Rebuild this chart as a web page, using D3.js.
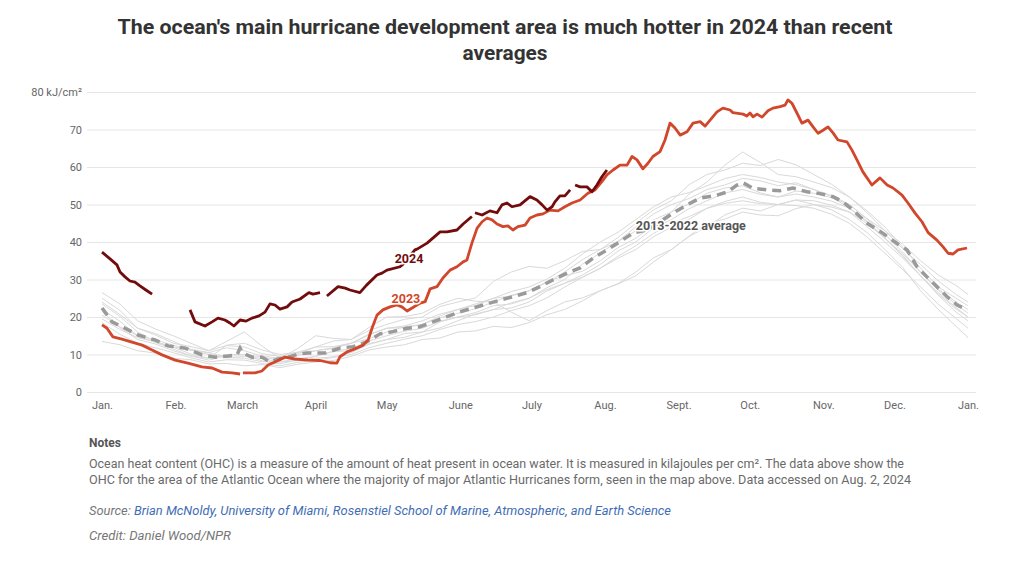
<!DOCTYPE html>
<html>
<head>
<meta charset="utf-8">
<script src="https://cdn.jsdelivr.net/npm/d3@7"></script>
<style>
  body { margin: 0; background: #fff; }
  svg { display: block; }
</style>
</head>
<body>
<svg id="chart" width="1009" height="564"></svg>
<script>
// ---------- DATA ----------
const monthTicks = [0, 31, 59, 90, 120, 151, 181, 212, 243, 273, 304, 334, 365];
const monthLabels = ["Jan.", "Feb.", "March", "April", "May", "June", "July", "Aug.", "Sept.", "Oct.", "Nov.", "Dec.", "Jan."];
const yTicks = [0, 10, 20, 30, 40, 50, 60, 70, 80];

// 2024 (null = missing data)
const days2024 = [0,3.4,6.3,7.6,9.7,11.8,13.9,16,18.5,21.1, 29,
  37.1,39.2,43.4,46.4,48.9,51.8,53.9,55.6,58.2,60.7,63.2,66.2,68.7,70.8,72.9,75,78,80.1,83.5,87.2,88.9,91.9, 93,
  94.8,99.5,102.5,104.5,108.7,111.5,115.9,118,120.1,125.6,126.9,131.9,132.8,137,142.5,145.4,149.6,152.2,155.9, 156.5,
  157.2,160.2,163.5,166.5,168.6,170.7,172.8,176.2,180.4,183.3,185.5,187.6,189.7,190.9,193,195.1,197.3, 198.3,
  199.4,201.5,204.4,206.5,208.6,210.7,212.8];
const vals2024 = [37.3,35.5,33.9,32,30.7,29.6,29.3,28.3,27.2,26.1, null,
  21.9,18.7,17.6,18.7,19.7,19.2,18.4,17.6,19.2,18.9,19.7,20.3,21.3,23.5,23.2,22.1,22.7,24,24.8,26.5,26.1,26.5, null,
  25.6,28.1,27.7,27.2,26.5,28.5,31.2,31.7,32.5,33.4,34.1,37.9,38.1,39.7,42.7,42.7,43.2,44.8,46.8, null,
  47.8,47.2,48.3,47.8,49.9,50.4,49.4,49.9,52.1,51.2,49.9,48.5,49.4,50.7,52.3,52.3,53.9, null,
  55.2,54.7,54.7,53.4,55.2,57.4,59.2];

// 2023
const days2023 = [0,2.1,4.6,8.4,12.6,16.9,21.1,25.3,30.8,36.2,42.1,46.4,50.6,54.8,58.2, 58.8,
  59.4,64.5,67.4,70,72.9,77.1,81.3,86.8,91.9,96.1,99,100.3,103.3,106.6,110.1,112.2,113.8,115.9,118.4,121.4,
  124.3,126.4,128.6,130.7,134.1,136.2,138.3,141.2,143.7,146.7,149.6,152.2,153.8,155.9,158.1,160.2,162.3,164.4,
  166.5,169,171.1,173.2,175.3,178.3,180.4,183.3,185.9,188.8,192.2,195.1,198.1,201.5,204.8,207.8,210.7,212.8,
  215.4,218.3,221.3,223.4,225.5,228,230.1,232.2,235.2,237.3,239.4,241.5,243.7,246.6,249.1,252.1,254.2,256.3,
  259.2,261.7,264.7,265.9,270.2,271.8,273.1,274.4,276.1,278.2,280.7,282.8,285.8,287.9,289.1,290.8,292.9,295,
  297.6,299.7,301.8,303.9,306,308.1,310.2,314,316.1,318.2,320.7,324.5,327.9,330.9,333.4,337.2,339.7,342.7,
  345.6,348.2,351.9,354.5,356.6,358.7,360.8,364.6];
const vals2023 = [17.9,17,14.7,14.1,13.3,12.5,11.2,9.9,8.5,7.7,6.7,6.4,5.3,5.1,4.8, null,
  5.1,5.1,5.6,7.2,8,9.3,8.8,8.5,8.4,7.8,7.7,9.4,10.7,11.5,12.5,13.9,17,20.5,21.9,22.7,
  23.2,22.7,21.6,22.4,23.7,24.1,27.5,28.1,30.4,32.5,33.4,34.7,35.2,39.7,43.7,45.4,46.4,45.9,
  44.8,44.1,44.3,43.2,44.1,44.5,46.4,47.2,47.5,48.5,48.3,49.4,50.4,51.2,53,53.9,56.1,57.9,
  59.2,60.5,60.5,62.8,61.9,59.5,61,62.8,64.1,67.2,71.7,70.4,68.5,69.4,71.7,72.1,70.9,72.5,
  74.7,75.7,75.2,74.5,74.1,73.6,74.4,73.4,74.1,73.3,75,75.7,76.1,76.5,77.9,77,74.4,71.7,
  72.5,70.7,69,69.8,70.7,69.1,67.2,66.7,64.5,61.9,58.7,55.2,57.1,55.2,54.4,52.5,50.4,47.7,
  45.4,42.5,40.5,38.7,37,36.8,37.9,38.4];

// 2013-2022 average
const daysAvg = [0,1.3,4.2,9.7,15.2,22.3,27.8,35,42.1,47.6,53.1,56.9,58.2,59.4,63.2,67.4,70.8,74.2,78.4,82.6,
  86.8,94,100.3,105.8,111.7,117.2,122.6,128.6,134,139.5,145.4,150.9,156.4,162.3,167.7,173.2,179.1,184.6,190.1,
  196,201.5,207,212.8,218.3,223.8,229.7,235.2,240.7,246.6,252.1,259.2,263.8,267.6,270.2,274.4,280.3,285.8,
  291.2,297.1,302.6,308.1,312.3,316.5,322.5,329.2,335.1,339.3,343.5,347.7,351.9,356.2,360.4,364.6];
const valsAvg = [22.4,21.3,18.7,17,15.2,13.9,12.3,11.7,9.9,9.3,9.6,9.9,11.7,10.4,9.3,9.3,8,8.8,9.3,10.1,
  10.4,10.4,11.7,12.1,13.4,15.5,16.1,17,17.4,18.7,20.1,21.4,22.4,23.5,24.5,25.4,26.5,28.1,29.9,
  31.7,33.1,35.7,37.9,40.1,42.4,43.2,45.4,47.7,49.9,51.7,52.5,53.4,55.2,55.8,54.3,53.9,53.7,
  54.4,53.4,52.9,52.1,50.7,48.5,45,42.3,39.6,37.9,33.4,30.7,28.1,25.4,23.2,21.9];

// individual years 2013-2022 (light grey), sampled every 7.5 days
const daysYears = [0,7.5,15,22.5,30,37.5,45,52.5,60,67.5,75,82.5,90,97.5,105,112.5,120,127.5,135,142.5,
  150,157.5,165,172.5,180,187.5,195,202.5,210,217.5,225,232.5,240,247.5,255,262.5,270,277.5,285,292.5,
  300,307.5,315,322.5,330,337.5,345,352.5,360,365];
const yearA = [13.5,12.6,11,10.4,9,8.6,7.5,7.6,7,7.3,6.5,7.4,8,8.4,9.5,11.2,12,12.6,14,14.4,
  16,16.3,17.5,17.2,18.5,20.6,22,24.3,27,28.9,32,35.8,38,41.5,44,47.2,49,48.3,50,51.2,
  50,48.6,46,42.5,38,33.2,27,22,17.5,14.5];
const yearB = [26.5,23.5,19,16.8,15,13,11,12.4,12,10.2,9.5,10.6,11,11.8,13,15.2,17,17.6,19,20.8,
  22,23.5,25,25.6,27,29.4,31,32.2,35,38.5,41,44.6,48,52.8,56,60.5,64,61.2,58,57.4,
  56,54.5,52,48.3,44,38.6,33,28,25,23];
const yearC = [25,21.8,17,15.6,13.5,11.4,10.5,9.2,9,8.1,8,8.9,9.5,10.8,11,12.9,14,15.6,16,18.7,
  20,21.2,23,23.5,25,27.8,30,34.1,37,40.2,44,47.5,50,51.6,54,55.2,57,56.3,55,55.8,
  54,52.1,49,45.6,41,36.4,31,26.5,22.5,20];
const yearD = [23.5,20.2,16,13.4,12,10.1,9,12.5,13,11.2,10,10.6,12,13.6,14,16.4,18,19.4,20,22.8,
  24,25.1,29.5,32,33.5,33,35,37.5,38,41.2,45,48.6,51,55.3,58,59.2,61,60.4,62,60.6,
  58,55.4,52,47.8,43,38.2,34,29.6,26,24];
const yearE = [22,18.9,15,13.2,11.5,9.6,8.5,9.8,10,8.3,7.5,8.6,9,9.4,10.5,12.7,14,14.6,16,17.1,
  19,20.8,22,22.4,24,26.9,29,31.2,34,37.6,40,43.8,46,48.9,51,53.1,54,52.7,52,53.6,
  53,51.8,50,46.2,43,39.4,35,31.2,28.4,26];
const yearF = [21.5,17.2,14,12.8,11,9.6,9,9.9,10,9.3,8.5,9.8,11,11.6,13,14.2,16,17.4,18,20.3,
  22,23.1,25,26.8,28,30.1,33,36.8,40,42.6,46,49.4,52,53.2,55,56.9,58,57.2,56,55.3,
  54,52.4,50,46.1,42,37.3,32,27.4,24,22];
const yearG = [20.5,17.4,15,13.9,12.5,11.1,10.5,11.8,11,9.6,9,10.2,12,12.1,13,15.4,17,17.2,18,19.8,
  21,22.2,24,25.8,27,29.2,32,35.3,38,40.1,43,45.9,48,50.2,53,54.4,55,53.1,52,52.8,
  52,50.9,49,45.3,41,36.8,32,27.1,23.4,21];
const yearH = [19.5,16.7,14.5,13.4,12,11.2,10,9.1,9.5,8.9,8,8.4,9.5,10.9,11.5,13.6,15,16.2,17,18.9,
  20,20.6,22,23.8,25,27.3,29,30.6,33,35.7,38,41.4,44,46.1,49,50.8,52,50.6,50,51.2,
  51,49.8,48,44.9,41,36.2,31,26.1,22.1,20];
const yearI = [18.5,15.4,13,11.8,10.5,9.1,8,8.6,8.5,7.6,7,7.9,8.5,9.2,10,11.8,13,14.1,15,16.7,
  18,18.8,20,21.7,23,25.1,28,30.6,33,36.2,39,42.3,45,46.8,49,50.3,51,50.2,50,49.7,
  49,47.4,45,41.3,37,32.6,28,23.4,19.6,17];
const yearJ = [24,20.7,17,15.2,13,12.1,11,13.5,16,12.2,9,11.6,15,14.3,14,17.2,20,20.1,21,23.4,
  25,24.2,24,21.3,19,21.7,24,25.1,27,28.8,31,34.7,38,41.6,45,46.1,48,47.2,47,48.9,
  50,49.3,48,44.1,40,35.7,31,25.8,21.3,19];
const greyYears = [yearA, yearB, yearC, yearD, yearE, yearF, yearG, yearH, yearI, yearJ];

// ---------- DRAW ----------
const svg = d3.select("#chart");
svg.append("rect").attr("width", 1009).attr("height", 564).attr("fill", "#fff");

const x = d3.scaleLinear().domain([0, 365]).range([102, 968]);
const y = d3.scaleLinear().domain([0, 80]).range([392, 92]);

const tickFont = "Roboto, 'Open Sans', sans-serif";

// title
const title = svg.append("g").attr("font-family", "Roboto, sans-serif").attr("font-weight", 700)
  .attr("fill", "#333").attr("text-anchor", "middle").attr("font-size", 20);
title.append("text").attr("x", 505).attr("y", 34)
  .attr("textLength", 775).attr("lengthAdjust", "spacingAndGlyphs")
  .text("The ocean's main hurricane development area is much hotter in 2024 than recent");
title.append("text").attr("x", 505).attr("y", 60)
  .attr("textLength", 85).attr("lengthAdjust", "spacingAndGlyphs")
  .text("averages");

// y axis with gridlines
const yAxis = d3.axisLeft(y).tickValues(yTicks).tickSizeInner(-889).tickSizeOuter(0).tickPadding(5)
  .tickFormat(d => d === 80 ? "80 kJ/cm²" : d);
const gy = svg.append("g").attr("transform", "translate(87,0)").call(yAxis);
gy.select(".domain").remove();
gy.selectAll("line").attr("stroke", "#e6e6e6");
gy.selectAll("text").attr("font-family", tickFont).attr("font-size", 11).attr("fill", "#666");

// x axis
const xAxis = d3.axisBottom(x).tickValues(monthTicks).tickFormat((d, i) => monthLabels[i])
  .tickSize(0).tickPadding(9);
const gx = svg.append("g").attr("transform", "translate(0,392)").call(xAxis);
gx.select(".domain").remove();
gx.selectAll("text").attr("font-family", tickFont).attr("font-size", 11).attr("fill", "#666");

const mk = (ds, vs) => ds.map((d, i) => ({ d, v: vs[i] }));
const line = d3.line().defined(p => p.v != null).x(p => x(p.d)).y(p => y(p.v)).curve(d3.curveLinear);

const plot = svg.append("g");
greyYears.forEach(vals => {
  plot.append("path").datum(mk(daysYears, vals)).attr("d", line)
    .attr("fill", "none").attr("stroke", "#d9d9d9").attr("stroke-width", 1).attr("stroke-linejoin", "round");
});

plot.append("path").datum(mk(daysAvg, valsAvg)).attr("d", line)
  .attr("fill", "none").attr("stroke", "#9a9a9a").attr("stroke-width", 3.5)
  .attr("stroke-dasharray", "9,6");

plot.append("path").datum(mk(days2023, vals2023)).attr("d", line)
  .attr("fill", "none").attr("stroke", "#d0472c").attr("stroke-width", 2.8).attr("stroke-linejoin", "round");

plot.append("path").datum(mk(days2024, vals2024)).attr("d", line)
  .attr("fill", "none").attr("stroke", "#720c0c").attr("stroke-width", 2.8).attr("stroke-linejoin", "round");

// labels with halo
function label(txt, day, val, color, anchor) {
  svg.append("text").attr("x", x(day)).attr("y", y(val)).attr("dy", "0.35em")
    .attr("text-anchor", anchor).attr("font-family", "Roboto, sans-serif").attr("font-weight", 700)
    .attr("font-size", 12.5).attr("fill", color)
    .attr("stroke", "#fff").attr("stroke-width", 3).attr("paint-order", "stroke")
    .text(txt);
}
label("2024", 129.4, 35.7, "#720c0c", "middle");
label("2023", 128.1, 24.8, "#d0472c", "middle");
label("2013-2022 average", 225, 44.3, "#555", "start");

// notes
const notes = svg.append("g").attr("font-family", "Roboto, sans-serif").attr("font-size", 12);
notes.append("text").attr("x", 89).attr("y", 447).attr("font-weight", 700).attr("fill", "#555").text("Notes");
notes.append("text").attr("x", 89).attr("y", 468).attr("fill", "#6a6a6a")
  .attr("textLength", 815).attr("lengthAdjust", "spacingAndGlyphs")
  .text("Ocean heat content (OHC) is a measure of the amount of heat present in ocean water. It is measured in kilajoules per cm². The data above show the");
notes.append("text").attr("x", 89).attr("y", 484).attr("fill", "#6a6a6a")
  .attr("textLength", 822).attr("lengthAdjust", "spacingAndGlyphs")
  .text("OHC for the area of the Atlantic Ocean where the majority of major Atlantic Hurricanes form, seen in the map above. Data accessed on Aug. 2, 2024");
const src = notes.append("text").attr("x", 89).attr("y", 515).attr("font-style", "italic")
  .attr("textLength", 582).attr("lengthAdjust", "spacingAndGlyphs");
src.append("tspan").attr("fill", "#777").text("Source: ");
src.append("tspan").attr("fill", "#3f6db5").text("Brian McNoldy, University of Miami, Rosenstiel School of Marine, Atmospheric, and Earth Science");
notes.append("text").attr("x", 89).attr("y", 540).attr("font-style", "italic").attr("fill", "#777")
  .attr("textLength", 142).attr("lengthAdjust", "spacingAndGlyphs")
  .text("Credit: Daniel Wood/NPR");
</script>
</body>
</html>
